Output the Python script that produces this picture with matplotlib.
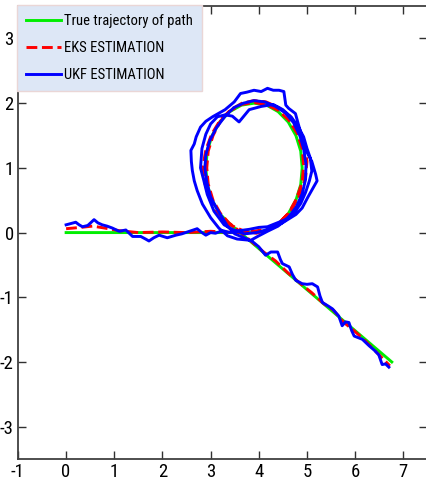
import matplotlib
matplotlib.use("Agg")
import matplotlib.pyplot as plt

plt.rcParams['font.family'] = ['Roboto Condensed', 'Liberation Sans', 'DejaVu Sans']
plt.rcParams['axes.unicode_minus'] = False

# true path: straight run, circle, then exit line
true_x = [0.0, 3.9, 4.16, 4.40, 4.61, 4.77, 4.87, 4.90, 4.87, 4.77, 4.61, 4.40, 4.16, 3.90,
          3.64, 3.40, 3.19, 3.03, 2.93, 2.90, 2.93, 3.03, 3.19, 3.36, 6.76]
true_y = [0.0, 0.0, 0.03, 0.13, 0.29, 0.50, 0.74, 1.00, 1.26, 1.50, 1.71, 1.87, 1.97, 2.00,
          1.97, 1.87, 1.71, 1.50, 1.26, 1.00, 0.74, 0.50, 0.29, 0.16, -2.0]

eks_x = [0.0, 0.3, 0.55, 0.8, 1.1, 1.5, 2.0, 2.5, 3.0, 3.5, 3.9,
         4.2, 4.45, 4.68, 4.85, 4.97, 5.0, 4.95, 4.83, 4.65, 4.42, 4.15, 3.9, 3.65, 3.42, 3.2,
         3.02, 2.9, 2.84, 2.88, 2.98, 3.15, 3.4, 3.7, 3.95,
         4.2, 4.42, 4.62, 4.78, 4.9, 4.93, 4.9, 4.8, 4.62, 4.4, 4.15, 3.9, 3.64, 3.4, 3.2,
         3.05, 2.95, 2.92, 2.95, 3.05, 3.2, 3.38,
         3.6, 3.85, 4.1, 4.35, 4.6, 4.85, 5.1, 5.35, 5.55, 5.75, 5.95, 6.15, 6.35, 6.55, 6.72]
eks_y = [0.06, 0.08, 0.10, 0.07, 0.03, 0.0, 0.01, 0.0, 0.02, 0.0, 0.02,
         0.06, 0.17, 0.35, 0.58, 0.85, 1.1, 1.38, 1.6, 1.8, 1.93, 2.02, 2.04, 2.0, 1.9, 1.74,
         1.52, 1.28, 1.02, 0.76, 0.52, 0.3, 0.12, 0.02, -0.01,
         0.04, 0.14, 0.3, 0.52, 0.78, 1.03, 1.3, 1.53, 1.74, 1.89, 1.98, 2.01, 1.98, 1.88, 1.72,
         1.5, 1.26, 1.0, 0.75, 0.5, 0.3, 0.15,
         0.02, -0.14, -0.3, -0.44, -0.62, -0.78, -0.93, -1.1, -1.2, -1.38, -1.5, -1.63, -1.78, -1.93, -2.06]

ukf_x = [0.0, 0.1, 0.2, 0.27, 0.34, 0.45, 0.58, 0.66, 0.75, 0.85, 0.96, 1.1, 1.24, 1.38, 1.55,
         1.65, 1.72, 1.82, 1.93, 2.1, 2.28, 2.4, 2.48, 2.6, 2.72, 2.8, 2.9, 3.0, 3.1, 3.25,
         3.4, 3.6, 3.8, 4.0, 4.18,
         4.35, 4.55, 4.73, 4.87, 4.97, 5.05, 5.1, 5.07, 5.0, 4.93, 4.82, 4.68, 4.5, 4.3, 4.05,
         3.8, 3.59, 3.45, 3.3, 3.14, 3.0, 2.9, 2.82, 2.79, 2.86, 2.93, 3.07, 3.28, 3.45, 3.7,
         3.95, 4.2,
         4.49, 4.77, 4.9, 5.02, 5.11, 5.21, 5.18, 5.1, 5.0, 4.95, 4.9, 4.83, 4.76, 4.62, 4.56,
         4.52, 4.42, 4.3, 4.18, 4.05, 3.9, 3.75, 3.62, 3.49, 3.3, 3.04, 2.9, 2.79, 2.7, 2.66,
         2.59, 2.6, 2.62, 2.66, 2.72, 2.83, 3.0, 3.17, 3.35, 3.55, 3.83, 4.0, 4.18,
         4.4, 4.6, 4.78, 4.9, 4.97, 4.98, 4.93, 4.85, 4.72, 4.55, 4.35, 4.12, 3.9, 3.68, 3.48,
         3.3, 3.12, 2.98, 2.9, 2.88, 2.92, 3.0, 3.12, 3.25, 3.35,
         3.5, 3.7, 3.87, 4.0, 4.14, 4.25, 4.39, 4.45, 4.49, 4.63, 4.7, 4.77, 4.9, 5.0, 5.11,
         5.22, 5.27, 5.32, 5.45, 5.53, 5.66, 5.73, 5.8, 5.87, 5.93, 5.98, 6.15, 6.29, 6.4, 6.49,
         6.56, 6.63, 6.7]
ukf_y = [0.12, 0.14, 0.16, 0.12, 0.09, 0.11, 0.2, 0.15, 0.12, 0.1, 0.07, 0.02, 0.04, -0.06, -0.06,
         -0.1, -0.13, -0.08, -0.04, -0.08, -0.04, -0.02, 0.0, 0.03, 0.06, 0.01, -0.04, 0.0, -0.01, 0.03,
         0.0, 0.03, 0.05, 0.08, 0.09,
         0.14, 0.2, 0.3, 0.45, 0.62, 0.8, 0.95, 1.15, 1.3, 1.48, 1.63, 1.78, 1.9, 1.98, 1.95,
         1.9, 1.71, 1.8, 1.82, 1.79, 1.68, 1.52, 1.3, 1.0, 0.8, 0.59, 0.33, 0.12, 0.05, -0.02,
         0.0, 0.05,
         0.15, 0.28, 0.38, 0.55, 0.67, 0.8, 0.9, 1.1, 1.24, 1.38, 1.48, 1.65, 1.84, 1.92, 1.97,
         2.18, 2.2, 2.2, 2.23, 2.18, 2.2, 2.17, 2.15, 2.02, 1.9, 1.79, 1.72, 1.63, 1.48, 1.37,
         1.27, 1.1, 0.96, 0.8, 0.65, 0.44, 0.23, 0.07, -0.05, -0.1, -0.12, -0.05, 0.02,
         0.1, 0.22, 0.4, 0.6, 0.82, 1.05, 1.3, 1.5, 1.7, 1.85, 1.95, 2.02, 2.04, 2.0, 1.93,
         1.8, 1.62, 1.42, 1.2, 1.0, 0.78, 0.55, 0.38, 0.22, 0.1,
         -0.02, -0.08, -0.14, -0.22, -0.35, -0.3, -0.3, -0.42, -0.48, -0.53, -0.65, -0.74, -0.79, -0.8, -0.79,
         -0.84, -0.98, -1.08, -1.14, -1.18, -1.29, -1.44, -1.38, -1.39, -1.52, -1.6, -1.65, -1.75, -1.82, -1.89,
         -2.04, -2.03, -2.08]

legend_labels = ['True trajectory of path', 'EKS ESTIMATION', 'UKF ESTIMATION']

fig = plt.figure(figsize=(4.27, 4.88), dpi=100)
ax = fig.add_axes([0.042, 0.0594, 0.959, 0.928])

ax.plot(true_x, true_y, color='#00ee00', lw=2.1, label=legend_labels[0])
ax.plot(eks_x, eks_y, color='#ff0000', lw=2.1, ls='--', label=legend_labels[1])
ax.plot(ukf_x, ukf_y, color='#0000ff', lw=2.1, label=legend_labels[2])

ax.set_xlim(-1, 7.5)
ax.set_ylim(-3.5, 3.5)
ax.set_xticks(range(-1, 8))
ax.set_yticks(range(-3, 4))

for s in ax.spines.values():
    s.set_color('#404040')
    s.set_linewidth(1.3)
ax.tick_params(direction='in', length=6, width=1, color='#303030',
               top=True, right=True, labelsize=13.5, pad=3)

leg = ax.legend(loc='upper left', bbox_to_anchor=(-0.002, 1.002), fontsize=10.5,
                frameon=True, fancybox=False, handlelength=2.4, handletextpad=0.2,
                labelspacing=0.88, borderpad=0.62, borderaxespad=0)
leg.get_frame().set_facecolor('#dde7f6')
leg.get_frame().set_edgecolor('#ead6d6')
leg.get_frame().set_alpha(1)

fig.savefig('out.png', dpi=100)
